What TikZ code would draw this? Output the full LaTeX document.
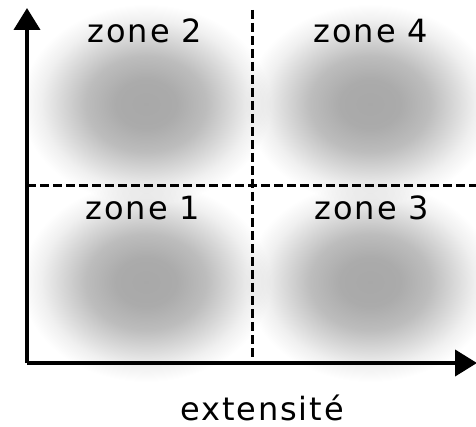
\documentclass[tikz,border=0pt]{standalone}
\usepackage{fontspec}
\setmainfont{DejaVu Sans}[LetterSpace=6]
\usetikzlibrary{arrows.meta}
\pgfdeclareradialshading{blur}{\pgfpoint{0bp}{0bp}}{%
  color(0bp)=(black!34); color(6bp)=(black!33); color(12bp)=(black!26);
  color(17bp)=(black!15); color(21bp)=(black!6); color(25bp)=(white);
  color(50bp)=(white)}
\tikzset{
  blob/.style={shading=blur,blend mode=multiply},
  zonelabel/.style={font=\fontsize{32}{36}\selectfont,inner sep=0pt,anchor=base},
  axis/.style={line width=4pt,-{Triangle[length=22pt,width=26pt]}},
  divider/.style={line width=3pt,dash pattern=on 9pt off 4pt}
}
\begin{document}
\begin{tikzpicture}[x=1pt,y=-1pt]
\useasboundingbox (0,0) rectangle (476,427);
\shade[blob] (146,104) ellipse (125 and 100);
\shade[blob] (370,104) ellipse (125 and 100);
\shade[blob] (146,282) ellipse (125 and 100);
\shade[blob] (370,282) ellipse (125 and 100);
\coordinate (O) at (27,363);
\coordinate (ytop) at (27,8);
\coordinate (xend) at (477,363);
\coordinate (vtop) at (252,10);
\coordinate (vbot) at (252,363);
\coordinate (hleft) at (27,186);
\coordinate (hright) at (476,186);
\draw[divider] (vtop)--(vbot);
\draw[divider] (hleft)--(hright);
\draw[axis] (O)--(ytop);
\draw[axis] (O)--(xend);
\node[zonelabel] (z2) at (145,43) {zone 2};
\node[zonelabel] (z4) at (371,43) {zone 4};
\node[zonelabel] (z1) at (143,220) {zone 1};
\node[zonelabel] (z3) at (372,220) {zone 3};
\node[zonelabel] (ext) at (262,420) {extensité};
\end{tikzpicture}
\end{document}
